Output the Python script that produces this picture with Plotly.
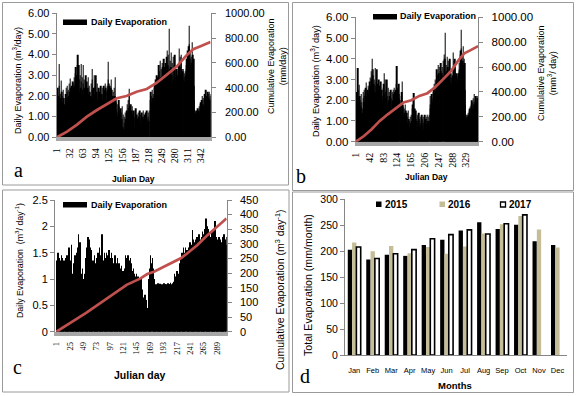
import plotly.graph_objects as go

W, H = 577, 396


def px(x):
    return x / W


def py(y):
    return 1 - y / H


# ---------------- DATA ----------------
# Panel a / b : daily evaporation (m3/day), Julian days 1..365
daily_a = [
    1.5, 2.3, 2.4, 1.8, 2.0, 3.55, 2.5, 1.6, 2.1, 1.9,
    2.75, 2.2, 1.5, 2.0, 1.7, 2.3, 1.9, 1.2, 1.6, 0.7,
    1.4, 2.1, 2.4, 1.9, 2.2, 2.5, 1.8, 2.3, 2.0, 2.6,
    2.2, 2.85, 2.1, 2.4, 1.9, 2.5, 2.3, 2.7, 2.0, 2.6,
    2.4, 2.9, 2.5, 3.1, 2.7, 3.4, 2.6, 3.0, 3.5, 4.0,
    3.2, 2.6, 3.5, 2.8, 2.2, 3.0, 2.4, 3.55, 2.7, 2.1,
    2.9, 2.3, 3.5, 2.6, 2.0, 2.8, 2.4, 1.9, 3.0, 2.5,
    2.2, 2.7, 1.8, 2.4, 2.9, 2.1, 1.7, 2.5, 2.2, 1.5,
    2.0, 2.6, 1.9, 2.8, 3.3, 2.3, 1.6, 2.4, 3.0, 2.1,
    1.2, 2.5, 3.0, 1.0, 2.2, 1.8, 2.6, 1.5, 2.0, 2.4,
    1.7, 2.2, 1.4, 1.9, 2.5, 1.6, 2.1, 1.3, 2.4, 1.8,
    2.0, 2.5, 1.7, 2.3, 2.6, 2.0, 2.4, 2.2, 1.8, 2.5,
    2.3, 2.8, 3.65, 2.6, 2.0, 2.5, 1.9, 2.4, 2.8, 2.1,
    2.3, 1.7, 2.0, 1.6, 2.2, 1.8, 2.4, 2.0, 2.9, 1.8,
    1.3, 1.7, 1.2, 1.6, 1.0, 1.4, 1.8, 1.3, 1.5, 1.1,
    0.8, 1.4, 0.6, 1.2, 0.9, 1.5, 0.5, 1.1, 0.4, 1.0,
    0.7, 0.35, 1.2, 0.9, 0.4, 1.3, 1.0, 1.6, 1.2, 1.8,
    1.4, 2.0, 2.35, 1.5, 1.1, 1.6, 0.9, 1.3, 1.5, 1.0,
    1.1, 0.7, 1.3, 1.0, 0.5, 1.2, 0.9, 1.4, 0.8, 1.1,
    0.4, 0.9, 1.2, 0.7, 1.0, 0.6, 1.3, 0.8, 1.1, 0.5,
    0.9, 1.2, 0.6, 1.0, 0.7, 1.3, 0.9, 0.5, 1.1, 0.8,
    1.2, 0.6, 1.0, 1.3, 0.9, 0.7, 1.2, 1.0, 0.8, 1.3,
    0.0, 1.8, 2.2, 1.6, 2.0, 1.7, 2.3, 1.9, 2.1, 1.8,
    2.4, 2.0, 2.6, 2.2, 2.8, 2.3, 2.5, 3.0, 2.4, 2.9,
    2.6, 3.5, 2.8, 3.2, 2.5, 3.7, 2.9, 3.3, 2.7, 3.6,
    3.0, 3.4, 2.6, 3.8, 3.1, 3.4, 3.3, 2.8, 3.6, 3.0,
    3.9, 3.2, 4.2, 3.5, 4.0, 3.1, 5.25, 3.3, 3.7, 2.9,
    3.4, 4.1, 3.0, 3.6, 2.6, 3.9, 3.2, 2.8, 3.5, 4.0,
    2.9, 3.3, 2.7, 3.1, 3.3, 2.8, 3.0, 2.7, 3.2, 3.5,
    4.3, 3.4, 3.9, 3.0, 4.0, 3.6, 3.3, 2.9, 3.2, 2.8,
    3.3, 2.9, 3.1, 2.7, 3.2, 3.0, 3.3, 3.5, 3.8, 3.4,
    4.2, 3.6, 4.4, 5.4, 4.5, 3.8, 4.1, 3.5, 3.9, 3.6,
    4.6, 3.7, 4.0, 3.4, 3.8, 2.5, 1.8, 1.3, 1.0, 1.2,
    1.1, 1.3, 1.0, 1.2, 1.4, 1.1, 1.3, 1.5, 1.2, 1.6,
    1.4, 1.7, 1.3, 1.8, 1.5, 2.0, 1.6, 1.9, 1.5, 1.8,
    2.1, 1.6, 1.9, 2.3, 1.8, 2.0, 1.6, 2.2, 1.8, 2.1,
    1.9, 2.2, 1.8, 2.1, 2.0,
]
cum_days_a = [1, 25, 48, 72, 96, 119, 143, 166, 190, 214, 237, 261, 285, 308, 324, 340, 365]
cum_a = [0, 46, 100, 167, 220, 266, 315, 333, 368, 390, 438, 503, 570, 660, 710, 732, 768]
ticks_a = [1, 32, 63, 94, 125, 156, 187, 218, 249, 280, 311, 342]
ticks_b = [1, 42, 83, 124, 165, 206, 247, 288, 329]

# Panel c : daily evaporation (m3/day), Julian days 1..306
daily_c = [
    1.1, 1.35, 1.3, 1.5, 1.25, 1.4, 1.2, 1.35, 1.3, 1.45,
    1.25, 1.4, 1.3, 1.2, 1.35, 1.25, 1.4, 1.3, 1.15, 1.45,
    1.3, 1.2, 1.5, 1.6, 1.3, 1.35, 1.2, 1.65, 1.1, 0.55,
    0.7, 1.3, 0.6, 1.45, 1.2, 1.35, 0.6, 1.5, 1.2, 1.6,
    1.85, 1.3, 1.7, 0.7, 0.65, 1.1, 0.6, 1.2, 0.8, 1.0,
    0.6, 1.1, 0.7, 1.4, 1.6, 1.3, 1.7, 1.8, 1.5, 1.75,
    1.6, 1.4, 1.55, 1.3, 1.2, 1.1, 1.35, 1.2, 1.45, 1.3,
    1.1, 1.25, 1.4, 1.15, 1.3, 1.5, 1.2, 1.6, 1.35, 1.45,
    1.3, 1.55, 1.85, 1.4, 1.2, 1.35, 1.5, 1.25, 1.4, 1.3,
    1.5, 1.2, 1.45, 1.3, 1.55, 1.25, 1.4, 1.15, 1.35, 1.5,
    1.2, 1.4, 1.3, 1.1, 1.35, 1.45, 1.2, 1.3, 1.0, 1.25,
    1.4, 1.15, 1.3, 1.05, 1.2, 0.95, 1.1, 1.25, 1.0, 1.15,
    0.95, 1.1, 1.2, 0.9, 1.45, 1.3, 1.4, 1.15, 1.45, 1.2,
    1.35, 1.1, 1.25, 1.4, 1.0, 1.3, 1.15, 1.05, 1.2, 0.95,
    1.1, 1.0, 1.05, 0.9, 1.1, 0.95, 1.05, 0.9, 1.0, 0.95,
    0.9, 0.7, 1.0, 0.6, 0.8, 0.25, 0.5, 0.65, 0.4, 0.7,
    0.5, 0.35, 0.6, 0.45, 0.28, 0.7, 1.0, 1.2, 1.1, 1.45,
    1.3, 1.25, 1.4, 1.1, 1.2, 1.0, 0.95, 0.88, 0.9, 0.86,
    0.9, 0.87, 0.92, 0.85, 0.9, 0.88, 0.91, 0.86, 0.9, 0.88,
    0.85, 0.9, 0.87, 0.92, 0.88, 0.9, 0.86, 0.9, 0.89, 0.87,
    0.92, 0.88, 0.9, 0.85, 0.9, 0.93, 0.88, 0.9, 0.87, 0.92,
    0.9, 0.95, 1.1, 0.9, 1.05, 0.95, 1.15, 0.9, 1.05, 0.95,
    1.1, 0.1, 1.3, 1.4, 1.25, 1.5, 1.35, 1.45, 1.6, 1.4,
    1.5, 1.35, 1.6, 1.4, 1.55, 1.3, 1.5, 1.45, 1.6, 1.4,
    1.7, 1.5, 1.65, 1.55, 1.93, 1.6, 1.75, 1.5, 1.7, 1.6,
    1.75, 1.55, 1.8, 1.65, 1.7, 1.5, 1.85, 1.6, 1.75, 1.55,
    1.8, 1.65, 1.9, 1.7, 1.85, 1.6, 1.95, 1.75, 2.15, 1.9,
    2.0, 1.8, 1.95, 1.7, 1.85, 1.6, 1.8, 1.55, 1.75, 1.9,
    1.7, 1.85, 1.6, 1.95, 1.75, 2.1, 1.8, 1.6, 1.75, 1.5,
    1.7, 1.55, 1.8, 1.6, 1.75, 1.5, 1.7, 1.65, 1.8, 1.6,
    1.7, 1.85, 1.6, 1.75, 1.65, 1.8,
]
cum_days_c = [1, 19, 43, 55, 79, 103, 127, 152, 164, 176, 200, 224, 236, 254, 272, 290, 306]
cum_c = [0, 23, 51, 65, 97, 131, 160, 182, 197, 205, 228, 251, 268, 296, 330, 359, 387]
ticks_c = [1, 25, 49, 73, 97, 121, 145, 169, 193, 217, 241, 265, 289]

# Panel d : monthly totals (mm/month)
months = ["Jan", "Feb", "Mar", "Apr", "May", "Jun", "Jul", "Aug", "Sep", "Oct", "Nov", "Dec"]
evap_2015 = [203, 184, 193, 191, 212, 222, 240, 256, 243, 251, 219, 212]
evap_2016 = [217, 200, 210, 196, 208, 195, 209, 234, 252, 268, 242, 207]
evap_2017 = [208, 186, 195, 203, 224, 232, 241, 233, 253, 270, None, None]

# ---------------- STYLE ----------------
RED = "#c0504d"
TAN = "#c4bd97"
AX = "#868686"
FLOOR = "#a6a6a6"
SANS = "Liberation Sans, Arial, sans-serif"
SERIF = "Liberation Serif, Times New Roman, serif"

fig = go.Figure()

# Panel a
fig.add_trace(go.Bar(x=list(range(1, len(daily_a) + 1)), y=daily_a, width=1,
                     marker=dict(color="black", line=dict(width=0)),
                     xaxis="x", yaxis="y", showlegend=False))
fig.add_trace(go.Scatter(x=cum_days_a, y=cum_a, mode="lines",
                         line=dict(color=RED, width=2.7),
                         xaxis="x", yaxis="y2", showlegend=False))
# Panel b
fig.add_trace(go.Bar(x=list(range(1, len(daily_a) + 1)), y=daily_a, width=1,
                     marker=dict(color="black", line=dict(width=0)),
                     xaxis="x2", yaxis="y3", showlegend=False))
fig.add_trace(go.Scatter(x=cum_days_a, y=cum_a, mode="lines",
                         line=dict(color=RED, width=2.7),
                         xaxis="x2", yaxis="y4", showlegend=False))
# Panel c
fig.add_trace(go.Bar(x=list(range(1, len(daily_c) + 1)), y=daily_c, width=1,
                     marker=dict(color="black", line=dict(width=0)),
                     xaxis="x3", yaxis="y5", showlegend=False))
fig.add_trace(go.Scatter(x=cum_days_c, y=cum_c, mode="lines",
                         line=dict(color=RED, width=2.7),
                         xaxis="x3", yaxis="y6", showlegend=False))
# Panel d
fig.add_trace(go.Bar(x=months, y=evap_2015, name="2015",
                     marker=dict(color="black", line=dict(width=0)),
                     xaxis="x4", yaxis="y7", showlegend=False))
fig.add_trace(go.Bar(x=months, y=evap_2016, name="2016",
                     marker=dict(color=TAN, line=dict(width=0)),
                     xaxis="x4", yaxis="y7", showlegend=False))
fig.add_trace(go.Bar(x=months, y=evap_2017, name="2017",
                     marker=dict(color="white", line=dict(color="black", width=1.6)),
                     xaxis="x4", yaxis="y7", showlegend=False))


def xday(domain, anchor, rng, ticks, size):
    return dict(domain=domain, anchor=anchor, range=rng, tickmode="array",
                tickvals=ticks, ticktext=[str(t) for t in ticks], tickangle=-90,
                tickfont=dict(family=SERIF, size=size, color="black"),
                ticks="", showline=True, linecolor=FLOOR, linewidth=4,
                showgrid=False, zeroline=False, fixedrange=True, automargin=False,
                ticklabelstandoff=3)


def yleft(domain, anchor, rng, dtick, fmt, size):
    return dict(domain=domain, anchor=anchor, range=rng, dtick=dtick, tickformat=fmt,
                tickfont=dict(family=SANS, size=size, color="black"),
                ticks="outside", ticklen=4, tickcolor=AX, showline=True,
                linecolor=AX, linewidth=1, showgrid=False, zeroline=False,
                fixedrange=True, automargin=False)


def yright(domain, anchor, over, rng, dtick, fmt, size, standoff):
    d = yleft(domain, anchor, rng, dtick, fmt, size)
    d.update(overlaying=over, side="right", ticklabelstandoff=standoff)
    return d


dom_a_x = [px(56.7), px(210.7)]
dom_a_y = [py(137.3), py(13.3)]
dom_b_x = [px(355.7), px(478.3)]
dom_b_y = [py(141.7), py(17.3)]
dom_c_x = [px(55), px(226.7)]
dom_c_y = [py(331.7), py(200)]
dom_d_x = [px(345), px(566.7)]
dom_d_y = [py(355), py(199.3)]

fig.update_layout(
    template="none",
    width=W, height=H,
    margin=dict(l=0, r=0, t=0, b=0, autoexpand=False),
    paper_bgcolor="white", plot_bgcolor="white",
    barmode="group", bargap=0.3, bargroupgap=0,
    font=dict(family=SANS, color="black"),
    showlegend=False,
    xaxis=xday(dom_a_x, "y", [0.5, 365.5], ticks_a, 10),
    yaxis=yleft(dom_a_y, "x", [0, 6], 1, ".2f", 11),
    yaxis2=yright(dom_a_y, "x", "y", [0, 1000], 200, ".2f", 11, 7),
    xaxis2=xday(dom_b_x, "y3", [0.5, 365.5], ticks_b, 10),
    yaxis3=yleft(dom_b_y, "x2", [0, 6], 1, ".2f", 11.5),
    yaxis4=yright(dom_b_y, "x2", "y3", [0, 1000], 200, ".2f", 11.5, 6),
    xaxis3=xday(dom_c_x, "y5", [-1.5, 306.5], ticks_c, 8.5),
    yaxis5=yleft(dom_c_y, "x3", [0, 2.5], 0.5, "", 11),
    yaxis6=yright(dom_c_y, "x3", "y5", [0, 450], 50, "", 11, 6),
    xaxis4=dict(domain=dom_d_x, anchor="y7", type="category",
                tickfont=dict(family=SANS, size=7.5, color="black"),
                ticks="", showline=True, linecolor=AX, linewidth=1,
                showgrid=False, zeroline=False, fixedrange=True,
                ticklabelstandoff=8, automargin=False),
    yaxis7=yleft(dom_d_y, "x4", [0, 300], 50, "", 10.5),
)

shapes = []
# panel frames
for (x0, y0, x1, y1) in [(2.5, 2.5, 288.5, 185), (292.5, 2.5, 573.5, 190.5),
                         (2.5, 190, 289, 392), (292.5, 192, 573.5, 392.5)]:
    shapes.append(dict(type="rect", xref="paper", yref="paper",
                       x0=px(x0), x1=px(x1), y0=py(y1), y1=py(y0),
                       line=dict(color="#9a9a9a", width=1), fillcolor="rgba(0,0,0,0)"))
# legend swatches a, b, c
for (x0, y0, x1, y1) in [(63, 19.5, 87, 25), (373, 14, 397, 19.5), (63, 202, 87, 207.5)]:
    shapes.append(dict(type="rect", xref="paper", yref="paper",
                       x0=px(x0), x1=px(x1), y0=py(y1), y1=py(y0),
                       line=dict(width=0), fillcolor="black"))
# legend swatches d
shapes.append(dict(type="rect", xref="paper", yref="paper", x0=px(376), x1=px(381.5),
                   y0=py(207), y1=py(201.5), line=dict(width=0), fillcolor="black"))
shapes.append(dict(type="rect", xref="paper", yref="paper", x0=px(439.5), x1=px(445),
                   y0=py(207), y1=py(201.5), line=dict(width=0), fillcolor=TAN))
shapes.append(dict(type="rect", xref="paper", yref="paper", x0=px(500.5), x1=px(505.5),
                   y0=py(207), y1=py(202), line=dict(color="black", width=1.3),
                   fillcolor="white"))
fig.update_layout(shapes=shapes)


def ann(text, x, y, size, angle=0, bold=False, family=SANS, xanchor="center", yanchor="middle"):
    if bold:
        text = "<b>" + text + "</b>"
    return dict(text=text, x=px(x), y=py(y), xref="paper", yref="paper",
                showarrow=False, textangle=angle, xanchor=xanchor, yanchor=yanchor,
                font=dict(family=family, size=size, color="black"))


annotations = [
    # panel a
    ann("Daily Evaporation (m<sup>3</sup>/day)", 17, 81, 9, angle=-90),
    ann("Cumulative Evaporation<br>(mm/day)", 277, 66, 9, angle=-90),
    ann("Julian Day", 133, 179, 8.5, bold=True),
    ann("Daily Evaporation", 89, 22.5, 9, bold=True, xanchor="left"),
    ann("a", 18, 170, 20, family=SERIF),
    # panel b
    ann("Daily Evaporation (m<sup>3</sup>/ day)", 315, 81, 9.2, angle=-90),
    ann("Cumulative Evaporation<br>(mm<sup>3</sup>/ day)", 547, 73, 9, angle=-90),
    ann("Julian Day", 426, 177, 8.5, bold=True),
    ann("Daily Evaporation", 398, 16.5, 9, bold=True, xanchor="left"),
    ann("b", 301, 176, 20, family=SERIF),
    # panel c
    ann("Daily Evaporation  (m<sup>3</sup>/ day<sup>-1</sup>)", 19, 261, 8.8, angle=-90),
    ann("Cumulative Evaporation (m<sup>3</sup> day<sup>-1</sup>)", 279, 290, 10.5, angle=-90),
    ann("Julian day", 140, 375, 10.5, bold=True),
    ann("Daily Evaporation", 89, 205, 9, bold=True, xanchor="left"),
    ann("c", 17, 367, 20, family=SERIF),
    # panel d
    ann("Total Evaporation (mm/month)", 308, 285, 10.6, angle=-90),
    ann("Months", 455, 385, 9.5, bold=True),
    ann("2015", 382.5, 204.5, 10, bold=True, xanchor="left"),
    ann("2016", 446, 204.5, 10, bold=True, xanchor="left"),
    ann("2017", 507, 204.5, 10, bold=True, xanchor="left"),
    ann("d", 305, 376, 20, family=SERIF),
]
fig.update_layout(annotations=annotations)

fig.write_html("out.html", config={"displayModeBar": False},
               post_script="document.body.style.margin='0';document.body.style.padding='0';")
